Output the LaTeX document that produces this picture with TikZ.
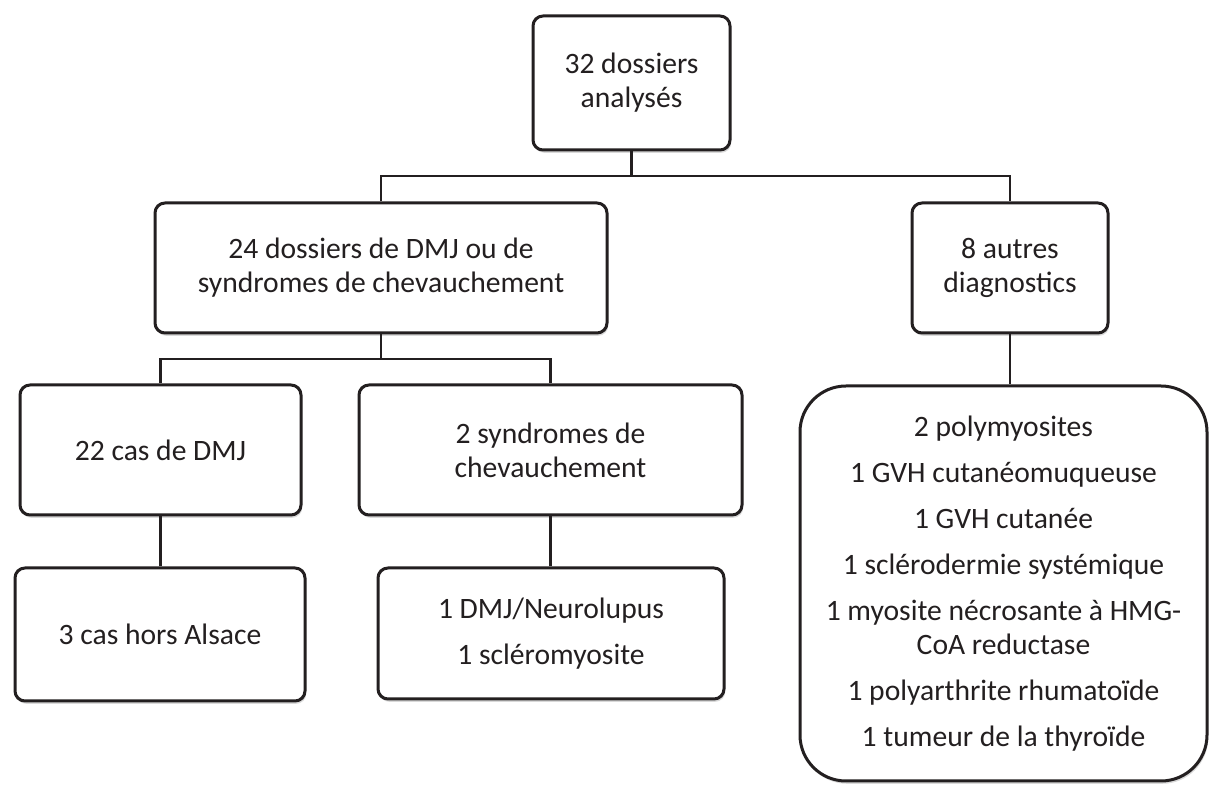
\documentclass[tikz,border=0pt]{standalone}
\usepackage{fontspec}
\setmainfont{Carlito}
\usepackage{xcolor}
\usetikzlibrary{positioning, shadows}

\definecolor{inkgray}{HTML}{231F20}

\begin{document}
\begin{tikzpicture}[
  x=0.5pt, y=-0.5pt,
  box/.style={draw=inkgray, line width=1.5pt, rounded corners=5pt, fill=white,
    text=inkgray, align=center, inner sep=2pt,
    font=\fontsize{14.8pt}{17pt}\selectfont,
    drop shadow={shadow xshift=0.6pt, shadow yshift=-1.4pt, opacity=0.25, fill=black!60}},
  link/.style={draw=inkgray, line width=1.3pt},
]
  \useasboundingbox (0,0) rectangle (1211,785);

  \node[box, minimum width=98.5pt, minimum height=67pt] (top) at (631.5,83) {32 dossiers\\analysés};
  \node[box, minimum width=226pt, minimum height=65pt] (d24) at (381,268) {24 dossiers de DMJ ou de\\syndromes de chevauchement};
  \node[box, minimum width=98pt, minimum height=65pt] (d8) at (1010,268) {8 autres\\diagnostics};
  \node[box, minimum width=140.5pt, minimum height=65pt] (c22) at (160.5,450) {22 cas de DMJ};
  \node[box, minimum width=191.5pt, minimum height=65pt] (s2) at (550.5,450) {2 syndromes de\\chevauchement};
  \node[box, minimum width=145pt, minimum height=66.5pt] (c3) at (160,634.5) {3 cas hors Alsace};
  \node[box, minimum width=173pt, minimum height=65.5pt] (dmj) at (551,633.5) {1 DMJ/Neurolupus\\[6pt]1 scléromyosite};
  \node[box, rounded corners=23pt, minimum width=203.5pt, minimum height=197.5pt] (big) at (1003.5,583.5)
    {2 polymyosites\\[6pt]1 GVH cutanéomuqueuse\\[6pt]1 GVH cutanée\\[6pt]1 sclérodermie systémique\\[6pt]1 myosite nécrosante à HMG-\\CoA reductase\\[6pt]1 polyarthrite rhumatoïde\\[6pt]1 tumeur de la thyroïde};

  \coordinate (bus1) at (0,176);
  \coordinate (bus2) at (0,359);

  \draw[link] (top.south) -- (bus1 -| top.south);
  \draw[link] (d24.north) |- (bus1 -| top.south) -| (d8.north);
  \draw[link] (d24.south) -- (bus2 -| d24.south);
  \draw[link] (c22.north) |- (bus2 -| d24.south) -| (s2.north);
  \draw[link] (c22.south) -- (c22.south |- c3.north);
  \draw[link] (s2.south) -- (s2.south |- dmj.north);
  \draw[link] (d8.south) -- (d8.south |- big.north);
\end{tikzpicture}
\end{document}
